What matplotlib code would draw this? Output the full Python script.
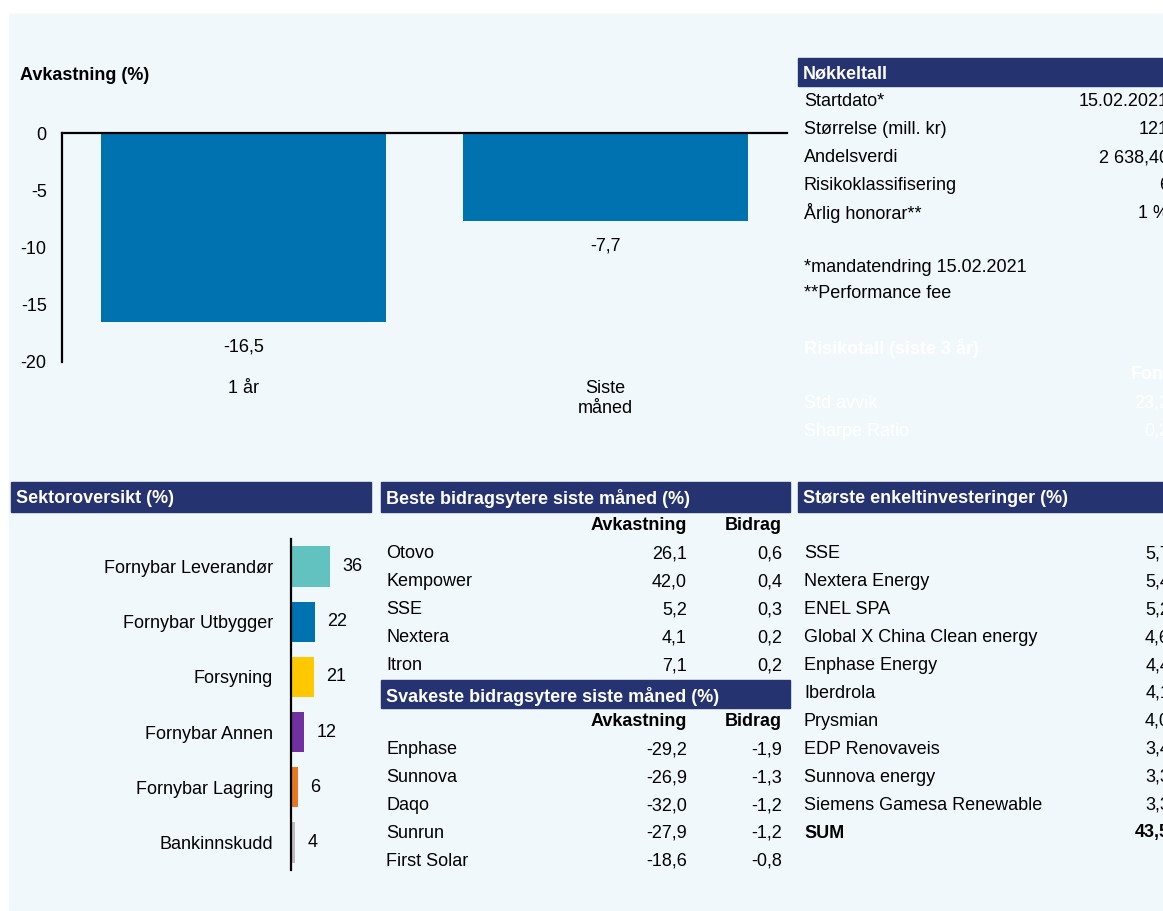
import matplotlib.pyplot as plt
from matplotlib.patches import Rectangle

plt.rcParams['font.family'] = ['Liberation Sans', 'DejaVu Sans']

# avkastning
periods = ['1 år', 'Siste\nmåned']
returns = [-16.5, -7.7]

# sektoroversikt
sectors = ['Fornybar Leverandør', 'Fornybar Utbygger', 'Forsyning',
           'Fornybar Annen', 'Fornybar Lagring', 'Bankinnskudd']
sector_pct = [36, 22, 21, 12, 6, 4]
sector_colors = ['#62C2BF', '#0072B0', '#FFC800', '#7030A0', '#E87722', '#BDBDBD']

# nøkkeltall
key_labels = ['Startdato*', 'Størrelse (mill. kr)', 'Andelsverdi',
              'Risikoklassifisering', 'Årlig honorar**']
key_values = ['15.02.2021', '121', '2 638,40', '6', '1 %']
notes = ['*mandatendring 15.02.2021', '**Performance fee']
risk_labels = ['Std avvik', 'Sharpe Ratio']
risk_values = ['23,2', '0,2']

# bidragsytere
best_names = ['Otovo', 'Kempower', 'SSE', 'Nextera', 'Itron']
best_ret = [26.1, 42.0, 5.2, 4.1, 7.1]
best_contrib = [0.6, 0.4, 0.3, 0.2, 0.2]
worst_names = ['Enphase', 'Sunnova', 'Daqo', 'Sunrun', 'First Solar']
worst_ret = [-29.2, -26.9, -32.0, -27.9, -18.6]
worst_contrib = [-1.9, -1.3, -1.2, -1.2, -0.8]

# største investeringer
holdings = ['SSE', 'Nextera Energy', 'ENEL SPA', 'Global X China Clean energy',
            'Enphase Energy', 'Iberdrola', 'Prysmian', 'EDP Renovaveis',
            'Sunnova energy', 'Siemens Gamesa Renewable']
holding_pct = [5.7, 5.4, 5.2, 4.6, 4.4, 4.1, 4.0, 3.4, 3.3, 3.3]
holding_sum = 43.5

W, H = 1163, 911
NAVY = '#253370'
BLUE = '#0072B0'
BG = '#F1F8FC'
FS = 13


def fx(x):
    return x / W


def fy(y):
    return 1 - y / H


def fmt(v, d=1):
    return f'{v:.{d}f}'.replace('.', ',')


fig = plt.figure(figsize=(W / 100, H / 100), dpi=100)
fig.patch.set_facecolor('white')
fig.patches.append(Rectangle((fx(9), fy(910)), fx(W - 9), 896 / H,
                             transform=fig.transFigure, color=BG, zorder=-5))


def txt(x, y, s, **kw):
    kw.setdefault('fontsize', FS)
    kw.setdefault('va', 'center')
    fig.text(fx(x), fy(y + 2), s, **kw)


def header(x0, x1, y0, y1, s):
    fig.patches.append(Rectangle((fx(x0), fy(y1)), fx(x1 - x0), (y1 - y0) / H,
                                 transform=fig.transFigure, color=NAVY, zorder=1))
    txt(x0 + 5, (y0 + y1) / 2, s, color='white', fontweight='bold')


# ---- avkastning bar chart
txt(20, 73, 'Avkastning (%)', fontweight='bold')
ax = fig.add_axes([fx(62), fy(362), fx(787 - 62), (362 - 133) / H])
ax.set_facecolor('none')
bars = ax.bar(range(len(returns)), returns, width=0.785, color=BLUE)
ax.bar_label(bars, labels=[fmt(v) for v in returns], padding=12, fontsize=FS)
ax.set_xlim(-0.5, 1.5)
ax.set_ylim(-20, 0)
ax.set_yticks([0, -5, -10, -15, -20])
ax.set_yticklabels(['0', '-5', '-10', '-15', '-20'])
ax.set_xticks(range(len(periods)))
ax.set_xticklabels(periods)
ax.tick_params(length=0, labelsize=FS)
ax.tick_params(axis='y', pad=11)
ax.tick_params(axis='x', pad=13)
for s in ['right', 'bottom']:
    ax.spines[s].set_visible(False)
ax.spines['left'].set_linewidth(1.6)
ax.spines['top'].set_linewidth(1.6)

# ---- nøkkeltall
header(798, 1170, 58, 86, 'Nøkkeltall')
for i, (lab, val) in enumerate(zip(key_labels, key_values)):
    y = 100 + i * 27.8
    txt(804, y, lab)
    txt(1169, y, val, ha='right')
txt(804, 265, notes[0])
txt(804, 292, notes[1])
# risikotall (hvit tekst)
txt(804, 346, 'Risikotall (siste 3 år)', color='white', fontweight='bold')
txt(1175, 373, 'Fond', color='white', fontweight='bold', ha='right')
for i, (lab, val) in enumerate(zip(risk_labels, risk_values)):
    txt(804, 401 + i * 28, lab, color='white')
    txt(1169, 401 + i * 28, val, color='white', ha='right')

# ---- sektoroversikt
header(11, 371, 482, 512, 'Sektoroversikt (%)')
ax2 = fig.add_axes([fx(291), fy(870), fx(80), (870 - 539) / H])
ax2.set_facecolor('none')
hb = ax2.barh(range(len(sectors)), sector_pct, height=0.73, color=sector_colors)
ax2.bar_label(hb, labels=[str(v) for v in sector_pct], padding=9, fontsize=FS)
ax2.set_ylim(len(sectors) - 0.5, -0.5)
ax2.set_xlim(0, 73.7)
ax2.set_yticks(range(len(sectors)))
ax2.set_yticklabels(sectors)
ax2.set_xticks([])
ax2.tick_params(length=0, labelsize=FS, pad=13)
for s in ['right', 'bottom', 'top']:
    ax2.spines[s].set_visible(False)
ax2.spines['left'].set_linewidth(1.6)

# ---- bidragsytere
header(381, 790, 482, 512, 'Beste bidragsytere siste måned (%)')
txt(687, 524, 'Avkastning', fontweight='bold', ha='right')
txt(782, 524, 'Bidrag', fontweight='bold', ha='right')
for i in range(len(best_names)):
    y = 552 + i * 28
    txt(386, y, best_names[i])
    txt(687, y, fmt(best_ret[i]), ha='right')
    txt(782, y, fmt(best_contrib[i]), ha='right')

header(381, 790, 680, 708, 'Svakeste bidragsytere siste måned (%)')
txt(687, 720, 'Avkastning', fontweight='bold', ha='right')
txt(782, 720, 'Bidrag', fontweight='bold', ha='right')
for i in range(len(worst_names)):
    y = 748 + i * 27.8
    txt(386, y, worst_names[i])
    txt(687, y, fmt(worst_ret[i]), ha='right')
    txt(782, y, fmt(worst_contrib[i]), ha='right')

# ---- største enkeltinvesteringer
header(798, 1170, 482, 512, 'Største enkeltinvesteringer (%)')
for i in range(len(holdings)):
    y = 552 + i * 27.9
    txt(804, y, holdings[i])
    txt(1170, y, fmt(holding_pct[i]), ha='right')
y = 552 + len(holdings) * 27.9
txt(804, y, 'SUM', fontweight='bold')
txt(1170, y, fmt(holding_sum), fontweight='bold', ha='right')

fig.savefig('out.png', dpi=100, facecolor=fig.get_facecolor())
